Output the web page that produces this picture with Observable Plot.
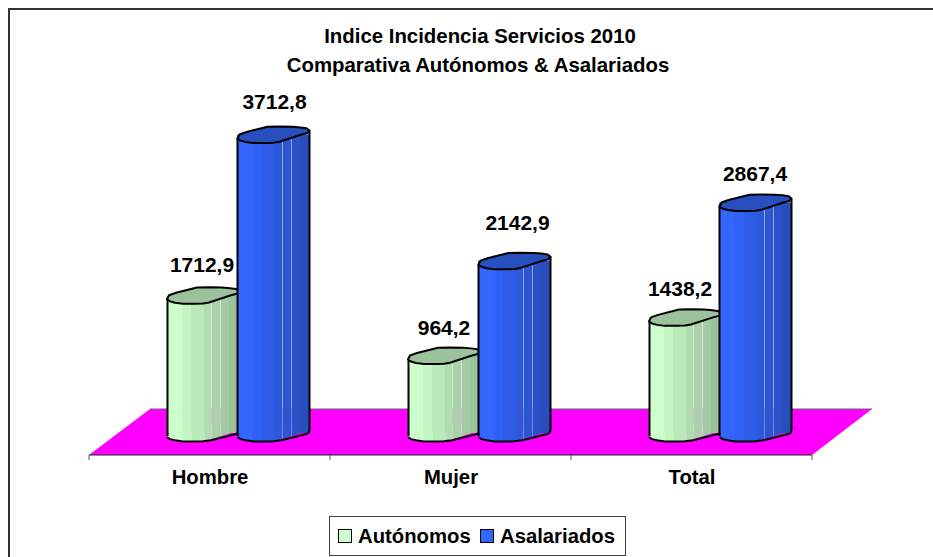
<!DOCTYPE html>
<html>
<head>
<meta charset="utf-8">
<script src="https://cdn.jsdelivr.net/npm/d3@7"></script>
<script src="https://cdn.jsdelivr.net/npm/@observablehq/plot@0.6"></script>
<style>
html,body{margin:0;padding:0;background:#fff;overflow:hidden}
#wrap{position:relative;width:933px;height:557px;font-family:"Liberation Sans",Arial,sans-serif}
#legend{position:absolute;left:329px;top:516px;width:295px;height:38px;border:1px solid #444;box-sizing:content-box;background:#fff;font-weight:bold;font-size:20.3px;color:#000}
#legend i{position:absolute;top:12px;width:12px;height:12px;border:1.5px solid #000;box-sizing:content-box}
#legend span{position:absolute;top:8px;line-height:22px;white-space:nowrap}
</style>
</head>
<body>
<div id="wrap">
<div id="chart"></div>
<div id="legend">
<i style="left:8px;background:#CCFFCC"></i><span style="left:28px">Autónomos</span>
<i style="left:150px;background:#3366FF"></i><span style="left:170px">Asalariados</span>
</div>
</div>
<script>
const categories = ["Hombre", "Mujer", "Total"];
const autonomos = [1712.9, 964.2, 1438.2];
const asalariados = [3712.8, 2142.9, 2867.4];
const titleLines = ["Indice Incidencia Servicios 2010", "Comparativa Autónomos & Asalariados"];

// layout of the label offsets (px) relative to the top of each bar
const autonomosLabelOffset = [[-1, -31], [0, -28], [-5, -29]];
const asalariadosLabelOffset = [[1, -33], [3, -38], [-0.5, -29]];

const fmt = v => v.toFixed(1).replace(".", ",");
const rows = vals => categories.map((c, i) => ({category: c, value: vals[i]}));

// Slightly tilted, faceted cylinder cap (as in the 3-D original)
const capPts = [[-36,3.5],[-34,-0.5],[-27,-3],[-6,-8.3],[6,-8.5],[19,-8.3],[27,-7.6],[33,-6.8],[36,-4.5],[34,-2],[28,-0.5],[6,6.7],[0,7.7],[-8,8],[-20,8],[-28,7],[-33,5.6]];
const lowerPts = [[36,-4.5],[35.5,-1],[33,0.5],[8,6.7],[0,7.7],[-8,8],[-20,8],[-28,6.8],[-33,5.6],[-36,3.5]];
function shape(pts, closed) {
  return {draw(ctx, size) {
    const k = Math.sqrt(size / Math.PI) / 36;
    pts.forEach(([x, y], i) => i ? ctx.lineTo(x * k, y * k) : ctx.moveTo(x * k, y * k));
    if (closed) ctx.closePath();
  }};
}
const capSym = shape(capPts, true), lowerSym = shape(lowerPts, false);

function gradient(defs, id, bands, seam) {
  const total = 213;
  const g = defs.append("linearGradient").attr("id", id);
  let pos = 0;
  for (const [w, col, seamAfter] of bands) {
    g.append("stop").attr("offset", pos / total).attr("stop-color", col);
    pos += w;
    if (seamAfter) {
      g.append("stop").attr("offset", (pos - 3) / total).attr("stop-color", col);
      g.append("stop").attr("offset", (pos - 3) / total).attr("stop-color", seam).attr("stop-opacity", 0.8);
      g.append("stop").attr("offset", pos / total).attr("stop-color", seam).attr("stop-opacity", 0.8);
    } else {
      g.append("stop").attr("offset", pos / total).attr("stop-color", col);
    }
  }
}

function backdrop(index, {x, y}, channels, {width, height, marginBottom}) {
  const svg = d3.create("svg:g");
  const defs = svg.append("defs");
  gradient(defs, "gA", [[46,"#CCFFCC"],[27,"#C4F5C4"],[38,"#BAE9BA"],[24,"#B0DCB0",1],[27,"#A9D2A9",1],[24,"#A3CAA3"],[27,"#9CC29C"]], "#D0E0D0");
  gradient(defs, "gB", [[46,"#3366FF"],[27,"#3161F4"],[38,"#2E5CE6"],[24,"#2D58DA",1],[27,"#2C55D0",1],[24,"#2A51C6"],[27,"#284DBC"]], "#6F8EE8");
  // outer chart border
  svg.append("path").attr("d", `M${width},9H9V${height}`).attr("fill", "none").attr("stroke", "#333").attr("stroke-width", 2);
  // pink floor of the 3-D chart
  const bw = x(categories[1]) - x(categories[0]);
  const left = x(categories[0]), right = x(categories[2]) + bw;
  const front = height - marginBottom, back = front - 46;
  svg.append("path").attr("d", `M${left},${front}L${left + 61},${back}H${right + 60}L${right},${front}Z`)
    .attr("fill", "#FF00FF");
  svg.append("path").attr("d", `M${left + 61},${back}H${right + 60}`).attr("stroke", "#666").attr("fill", "none");
  svg.append("path").attr("d", `M${left},${front}H${right}`).attr("stroke", "#222").attr("fill", "none").attr("stroke-width", 1.2);
  // category boundary ticks
  for (let i = 0; i <= categories.length; i++) {
    const t = left + i * bw;
    svg.append("path").attr("d", `M${t},${front}v5`).attr("stroke", "#555");
  }
  return svg.node();
}

function cylinder(vals, grad, capFill, insetLeft, insetRight) {
  const data = rows(vals);
  const cx = (insetLeft + (241 - insetRight)) / 2 - 120.5;
  const xl = insetLeft - 120.5, xr = 241 - insetRight - 120.5;
  return [
    Plot.dot(data, {x: "category", y: () => 0, dx: cx, r: 36, symbol: capSym, fill: grad, stroke: "none"}),
    Plot.barY(data, {x: "category", y: "value", insetLeft, insetRight, fill: grad}),
    Plot.dot(data, {x: "category", y: () => 0, dx: cx, r: 36, symbol: lowerSym, fill: "none", stroke: "#000", strokeWidth: 2, strokeLinejoin: "round"}),
    Plot.ruleX(data, {x: "category", y1: () => 0, y2: "value", dx: xl, dy: 3, stroke: "#000", strokeWidth: 2}),
    Plot.ruleX(data, {x: "category", y1: () => 0, y2: "value", dx: xr, dy: -4, stroke: "#000", strokeWidth: 2}),
    Plot.dot(data, {x: "category", y: "value", dx: cx, r: 36, symbol: capSym, fill: capFill, stroke: "#000", strokeWidth: 2, strokeLinejoin: "round"})
  ];
}

function labels(vals, offsets, base) {
  return vals.map((v, i) => Plot.text([{category: categories[i], value: v}], {
    x: "category", y: "value", text: d => fmt(d.value),
    dx: base + offsets[i][0], dy: offsets[i][1],
    fontSize: 21, fontWeight: "bold", fill: "#000"
  }));
}

const plot = Plot.plot({
  width: 933,
  height: 557,
  marginLeft: 89,
  marginRight: 121,
  marginTop: 0,
  marginBottom: 102,
  style: {fontFamily: '"Liberation Sans", Arial, sans-serif', background: "#fff"},
  x: {domain: categories, type: "band", range: [89, 812], padding: 0, round: false, label: null},
  y: {domain: [0, 4000], range: [433, 111.4], axis: null},
  marks: [
    backdrop,
    ...cylinder(autonomos, "url(#gA)", "#9CC29C", 78, 92),
    ...cylinder(asalariados, "url(#gB)", "#274FBE", 148, 21),
    ...labels(autonomos, autonomosLabelOffset, -7),
    ...labels(asalariados, asalariadosLabelOffset, 63.5),
    Plot.axisX({tickSize: 0, tickPadding: 14, fontSize: 20.3, fontWeight: "bold", label: null, fill: "#000"}),
    Plot.text([titleLines[0]], {frameAnchor: "top", dx: 29, dy: 28.5, fontSize: 20.4, fontWeight: "bold", fill: "#000"}),
    Plot.text([titleLines[1]], {frameAnchor: "top", dx: 27, dy: 57, fontSize: 20.4, fontWeight: "bold", fill: "#000"})
  ]
});
document.getElementById("chart").append(plot);
</script>
</body>
</html>
